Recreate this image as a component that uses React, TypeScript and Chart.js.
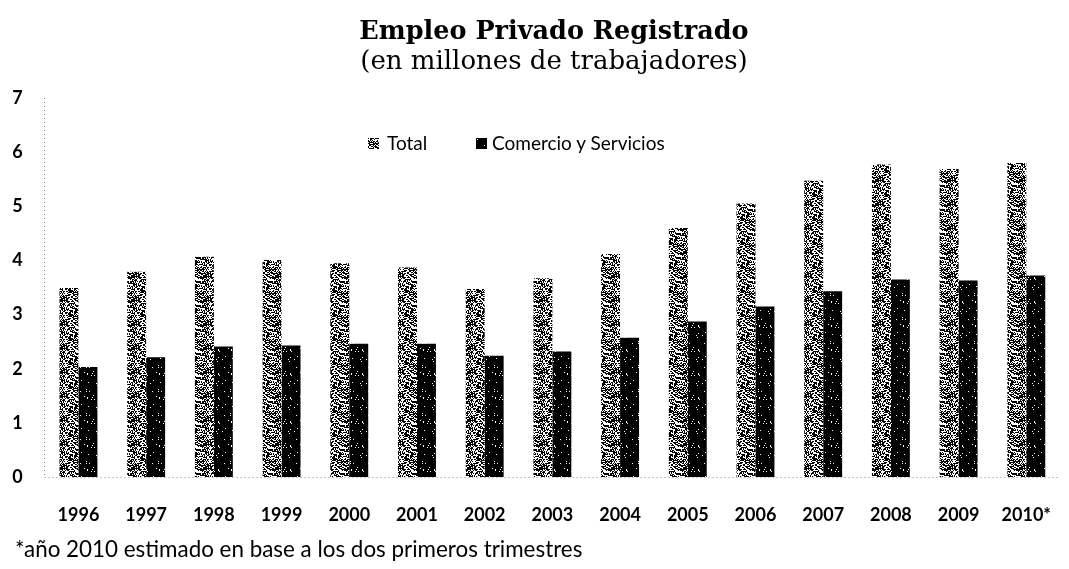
import React, { useEffect, useRef } from "react";
import { Chart, registerables } from "chart.js";

Chart.register(...registerables);

const years = ["1996", "1997", "1998", "1999", "2000", "2001", "2002", "2003", "2004", "2005", "2006", "2007", "2008", "2009", "2010*"];
const totalValues = [3.49, 3.79, 4.07, 4.01, 3.95, 3.87, 3.47, 3.67, 4.12, 4.6, 5.05, 5.47, 5.77, 5.69, 5.8];
const comercioValues = [2.03, 2.21, 2.41, 2.43, 2.46, 2.46, 2.24, 2.32, 2.57, 2.87, 3.15, 3.43, 3.65, 3.63, 3.72];
const seriesNames = ["Total", "Comercio y Servicios"];
const titleText = "Empleo Privado Registrado";
const subtitleText = "(en millones de trabajadores)";
const footnoteText = "*año 2010 estimado en base a los dos primeros trimestres";
const yMin = 0;
const yMax = 7;

const SANS = "Lato, 'Open Sans', sans-serif";
const SERIF = "'DejaVu Serif', 'Liberation Serif', serif";

// Texture tile (styling only): speckled grey for Total, near-black for Comercio
function makeTile(whiteShare: number, seed: number): HTMLCanvasElement {
  const size = 24;
  const c = document.createElement("canvas");
  c.width = size;
  c.height = size;
  const ctx = c.getContext("2d")!;
  const img = ctx.createImageData(size, size);
  let s = seed;
  for (let i = 0; i < size * size; i++) {
    s = (s * 1103515245 + 12345) & 0x7fffffff;
    const r = s / 0x7fffffff;
    const v = r < whiteShare ? 255 : 0;
    img.data[i * 4] = v;
    img.data[i * 4 + 1] = v;
    img.data[i * 4 + 2] = v;
    img.data[i * 4 + 3] = 255;
  }
  ctx.putImageData(img, 0, 0);
  return c;
}

// Dotted axis lines along the chart area's left and bottom edges
const dottedAxes = {
  id: "dottedAxes",
  beforeDatasetsDraw(chart: any) {
    const { ctx, chartArea } = chart;
    const x = Math.round(chartArea.left) - 0.5;
    const y = Math.round(chartArea.bottom) + 0.5;
    ctx.save();
    ctx.strokeStyle = "#888";
    ctx.lineWidth = 1;
    ctx.setLineDash([1, 3]);
    ctx.beginPath();
    ctx.moveTo(x, chartArea.top);
    ctx.lineTo(x, y);
    ctx.moveTo(x, y);
    ctx.lineTo(chartArea.right, y);
    ctx.stroke();
    ctx.restore();
  },
};

export default function App() {
  const canvasRef = useRef<HTMLCanvasElement | null>(null);
  const totalSwatchRef = useRef<HTMLCanvasElement | null>(null);
  const comSwatchRef = useRef<HTMLCanvasElement | null>(null);

  useEffect(() => {
    const canvas = canvasRef.current;
    if (!canvas) return;
    const ctx = canvas.getContext("2d")!;
    const totalTile = makeTile(0.45, 12345);
    const comTile = makeTile(0.03, 777);
    const totalPattern = ctx.createPattern(totalTile, "repeat")!;
    const comPattern = ctx.createPattern(comTile, "repeat")!;

    const sw1 = totalSwatchRef.current;
    if (sw1) {
      const c1 = sw1.getContext("2d")!;
      c1.fillStyle = c1.createPattern(totalTile, "repeat")!;
      c1.fillRect(0, 0, sw1.width, sw1.height);
    }
    const sw2 = comSwatchRef.current;
    if (sw2) {
      const c2 = sw2.getContext("2d")!;
      c2.fillStyle = c2.createPattern(comTile, "repeat")!;
      c2.fillRect(0, 0, sw2.width, sw2.height);
    }

    const chart = new Chart(canvas, {
      type: "bar",
      data: {
        labels: years,
        datasets: [
          {
            label: seriesNames[0],
            data: totalValues,
            backgroundColor: totalPattern as any,
            borderWidth: 0,
            categoryPercentage: 0.56,
            barPercentage: 1.0,
          },
          {
            label: seriesNames[1],
            data: comercioValues,
            backgroundColor: comPattern as any,
            borderWidth: 0,
            categoryPercentage: 0.56,
            barPercentage: 1.0,
          },
        ],
      },
      options: {
        responsive: false,
        animation: false,
        devicePixelRatio: 1,
        layout: { padding: { top: 98, left: 0, right: 0, bottom: 0 } },
        plugins: {
          legend: { display: false },
          title: { display: false },
          tooltip: { enabled: false },
        },
        scales: {
          x: {
            grid: { display: false, drawTicks: false },
            border: { display: false },
            ticks: {
              color: "#000",
              font: { family: SANS, size: 18, weight: "bold" },
              padding: 27,
              maxRotation: 0,
              autoSkip: false,
            },
            afterFit: (s: any) => {
              s.height = 92;
            },
          },
          y: {
            min: yMin,
            max: yMax,
            grid: { display: false, drawTicks: false },
            border: { display: false },
            ticks: {
              stepSize: 1,
              color: "#000",
              font: { family: SANS, size: 18, weight: "bold" },
              padding: 22,
            },
            afterFit: (s: any) => {
              s.width = 44.6;
            },
          },
        },
      },
      plugins: [dottedAxes],
    });
    return () => chart.destroy();
  }, []);

  return (
    <div
      style={{
        position: "absolute",
        left: 0,
        top: 0,
        width: 1069,
        height: 569,
        overflow: "hidden",
        background: "#fff",
      }}
    >
      <canvas ref={canvasRef} width={1078} height={569} style={{ position: "absolute", left: 0, top: 0 }} />
      <div
        style={{
          position: "absolute",
          left: 554,
          top: 15,
          transform: "translateX(-50%)",
          textAlign: "center",
          whiteSpace: "nowrap",
          fontFamily: SERIF,
          color: "#000",
        }}
      >
        <div style={{ fontSize: 25.5, fontWeight: "bold", lineHeight: "30px" }}>{titleText}</div>
        <div style={{ fontSize: 26, fontWeight: "normal", lineHeight: "30px" }}>{subtitleText}</div>
      </div>
      <canvas ref={totalSwatchRef} width={11} height={11} style={{ position: "absolute", left: 368, top: 138 }} />
      <div style={{ position: "absolute", left: 387, top: 131, fontFamily: SANS, fontSize: 19, lineHeight: "24px", color: "#000", whiteSpace: "nowrap" }}>
        {seriesNames[0]}
      </div>
      <canvas ref={comSwatchRef} width={11} height={11} style={{ position: "absolute", left: 476, top: 138 }} />
      <div style={{ position: "absolute", left: 492, top: 131, fontFamily: SANS, fontSize: 19, lineHeight: "24px", color: "#000", whiteSpace: "nowrap" }}>
        {seriesNames[1]}
      </div>
      <div style={{ position: "absolute", left: 15, top: 535, fontFamily: SANS, fontSize: 22.4, lineHeight: "28px", color: "#000", whiteSpace: "nowrap" }}>
        {footnoteText}
      </div>
    </div>
  );
}
